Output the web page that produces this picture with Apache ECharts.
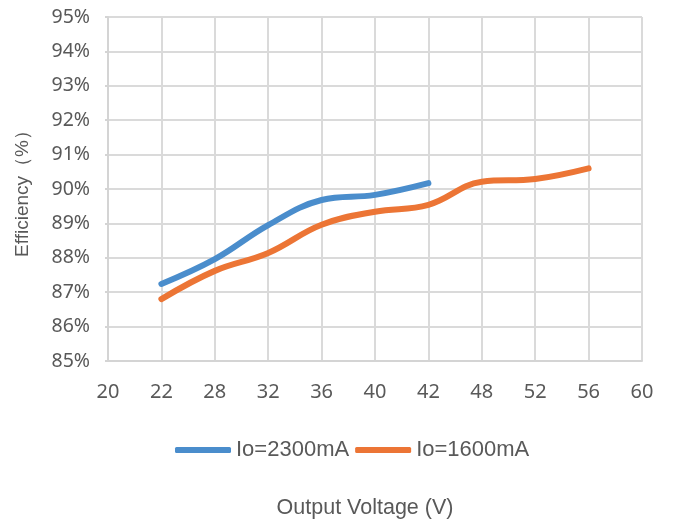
<!DOCTYPE html>
<html>
<head>
<meta charset="utf-8">
<script src="https://cdn.jsdelivr.net/npm/echarts@6/dist/echarts.min.js"></script>
<style>html,body{margin:0;padding:0;background:#fff}#c{width:673px;height:524px}</style>
</head>
<body>
<div id="c"></div>
<script>
const categories = ['20','22','28','32','36','40','42','48','52','56','60'];
const io2300 = [null, 87.24, 87.96, 88.95, 89.68, 89.83, 90.17, null, null, null, null];
const io1600 = [null, 86.8, 87.62, 88.14, 88.96, 89.34, 89.54, 90.21, 90.29, 90.6, null];
const seriesNames = ['Io=2300mA', 'Io=1600mA'];
const xTitle = 'Output Voltage (V)';
const yTitle = 'Efficiency（%）';

const chart = echarts.init(document.getElementById('c'), null, {renderer: 'canvas'});
const gray = '#595959';
chart.setOption({
  animation: false,
  backgroundColor: '#fff',
  grid: {left: 108, right: 31, top: 17, bottom: 162},
  legend: {
    data: seriesNames,
    left: 170, top: 434,
    icon: 'roundRect',
    itemWidth: 56, itemHeight: 6, itemGap: 6,
    textStyle: {fontFamily: 'Liberation Sans', fontSize: 22, color: gray}
  },
  xAxis: {
    type: 'category',
    data: categories,
    boundaryGap: false,
    name: xTitle,
    nameLocation: 'middle',
    nameGap: 136,
    nameTextStyle: {fontFamily: 'Liberation Sans', fontSize: 21.5, color: gray, padding: [0, 20, 0, 0]},
    axisLine: {show: true, lineStyle: {color: '#d4d4d4', width: 2}},
    axisTick: {show: false},
    axisLabel: {fontFamily: 'Noto Sans', fontSize: 20, color: gray, margin: 21},
    splitLine: {show: true, lineStyle: {color: '#dadada', width: 2}}
  },
  yAxis: {
    type: 'value',
    min: 85, max: 95, interval: 1,
    name: yTitle,
    nameLocation: 'middle',
    nameGap: 76,
    nameTextStyle: {fontFamily: 'Liberation Sans', fontSize: 19, color: gray},
    axisLine: {show: true, lineStyle: {color: '#d4d4d4', width: 2}},
    axisTick: {show: true, length: 3, lineStyle: {color: '#d4d4d4', width: 2}},
    axisLabel: {fontFamily: 'Noto Sans', fontSize: 19.5, color: gray, margin: 18, formatter: '{value}%'},
    splitLine: {show: true, lineStyle: {color: '#dadada', width: 2}}
  },
  series: [
    {name: seriesNames[0], type: 'line', data: io2300, smooth: 0.4, symbol: 'none',
     color: '#4a8dcc', lineStyle: {width: 6, color: '#4a8dcc', cap: 'round'}},
    {name: seriesNames[1], type: 'line', data: io1600, smooth: 0.4, symbol: 'none',
     color: '#ec7535', lineStyle: {width: 6, color: '#ec7535', cap: 'round'}}
  ]
});
</script>
</body>
</html>
